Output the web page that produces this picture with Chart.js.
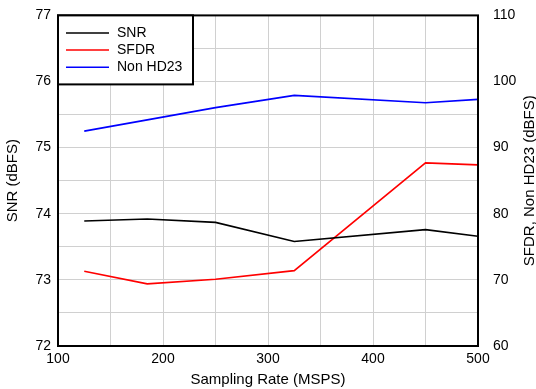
<!DOCTYPE html>
<html>
<head>
<meta charset="utf-8">
<script src="https://cdn.jsdelivr.net/npm/chart.js@4.4.0/dist/chart.umd.min.js"></script>
<style>
  html, body { margin: 0; padding: 0; background: #fff; }
  #wrap { width: 536px; height: 389px; }
</style>
</head>
<body>
<div id="wrap"><canvas id="chart-snr"></canvas></div>
<script>
const rates = [125, 185, 250, 325, 450, 500];
const snr = [73.89, 73.92, 73.87, 73.58, 73.76, 73.66];
const sfdr = [71.3, 69.4, 70.1, 71.4, 87.7, 87.4];
const nonHd23 = [92.5, 94.2, 96.05, 97.9, 96.8, 97.3];

const FONT = 'Liberation Sans, Arial, sans-serif';

function pts(ys) {
  return rates.map((x, i) => ({ x, y: ys[i] }));
}

// frame round the plot, boxed legend top-left, right axis title reading upward
const framePlugin = {
  id: 'frame',
  afterDatasetsDraw(chart) {
    const { ctx, chartArea: a } = chart;
    ctx.save();
    ctx.strokeStyle = '#000';
    ctx.lineWidth = 2;
    ctx.strokeRect(a.left, a.top, a.right - a.left, a.bottom - a.top);

    const bx = a.left, by = a.top, bw = 135, bh = 69;
    ctx.fillStyle = '#fff';
    ctx.fillRect(bx, by, bw, bh);
    ctx.strokeRect(bx, by, bw, bh);

    ctx.font = '14px ' + FONT;
    ctx.textBaseline = 'middle';
    chart.data.datasets.forEach((ds, i) => {
      const y = by + 17.5 + i * 17.2;
      ctx.strokeStyle = ds.borderColor;
      ctx.lineWidth = 1.5;
      ctx.beginPath();
      ctx.moveTo(bx + 8, y);
      ctx.lineTo(bx + 51, y);
      ctx.stroke();
      ctx.fillStyle = '#000';
      ctx.fillText(ds.label, bx + 59, y);
    });

    ctx.translate(530, (a.top + a.bottom) / 2);
    ctx.rotate(-Math.PI / 2);
    ctx.font = '15px ' + FONT;
    ctx.textAlign = 'center';
    ctx.fillStyle = '#000';
    ctx.fillText('SFDR, Non HD23 (dBFS)', 0, 0);
    ctx.restore();
  }
};

const ctx = document.getElementById('chart-snr').getContext('2d');
new Chart(ctx, {
  type: 'line',
  data: {
    datasets: [
      { label: 'SNR', data: pts(snr), borderColor: '#000', yAxisID: 'y' },
      { label: 'SFDR', data: pts(sfdr), borderColor: '#ff0000', yAxisID: 'y2' },
      { label: 'Non HD23', data: pts(nonHd23), borderColor: '#0000ff', yAxisID: 'y2' }
    ]
  },
  options: {
    responsive: true,
    maintainAspectRatio: false,
    animation: false,
    layout: { padding: { top: 15, left: 0, right: 0, bottom: 0 } },
    elements: {
      point: { radius: 0 },
      line: { borderWidth: 1.6, tension: 0 }
    },
    plugins: { legend: { display: false }, tooltip: { enabled: false } },
    scales: {
      x: {
        type: 'linear',
        min: 100, max: 500,
        grid: { color: '#d0d0d0', lineWidth: 1, drawTicks: false },
        border: { display: false },
        ticks: {
          stepSize: 50, padding: 5, color: '#000', maxRotation: 0,
          font: { family: FONT, size: 14 },
          callback: (v) => (v % 100 === 0 ? v : '')
        },
        title: {
          display: true, text: 'Sampling Rate (MSPS)', color: '#000',
          font: { family: FONT, size: 15 }, padding: { top: 0, bottom: 0 }
        },
        afterFit(s) { s.height = 43; }
      },
      y: {
        position: 'left',
        min: 72, max: 77,
        grid: { color: '#d0d0d0', lineWidth: 1, drawTicks: false },
        border: { display: false },
        ticks: {
          stepSize: 0.5, padding: 7, color: '#000',
          font: { family: FONT, size: 14 },
          callback: (v) => (Number.isInteger(v) ? v : '')
        },
        title: {
          display: true, text: 'SNR (dBFS)', color: '#000',
          font: { family: FONT, size: 15 }, padding: { top: 4, bottom: 0 }
        },
        afterFit(s) { s.width = 58; }
      },
      y2: {
        position: 'right',
        min: 60, max: 110,
        grid: { display: false },
        border: { display: false },
        ticks: {
          stepSize: 10, padding: 7, color: '#000',
          font: { family: FONT, size: 14 }
        },
        afterFit(s) { s.width = 58; }
      }
    }
  },
  plugins: [framePlugin]
});
</script>
</body>
</html>
